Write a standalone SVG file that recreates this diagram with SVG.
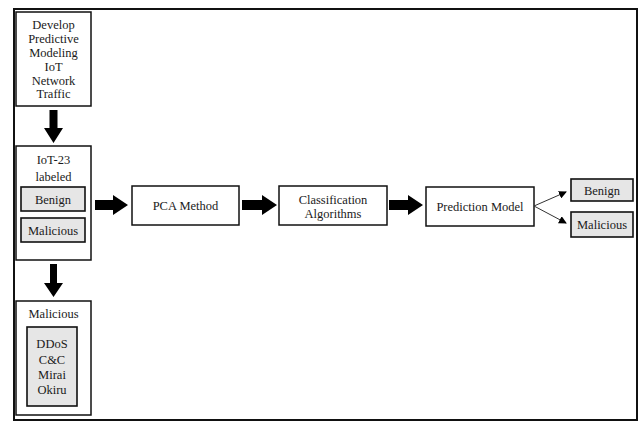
<svg xmlns="http://www.w3.org/2000/svg" width="639" height="422" viewBox="0 0 639 422" font-family="Liberation Serif, DejaVu Serif, serif">
<style>
.box{fill:#fff;stroke:#111;stroke-width:1.5}
.gbox{fill:#e6e6e6;stroke:#111;stroke-width:1.6}
text{font-size:12.5px;fill:#1a1a1a;text-anchor:middle}
.big{fill:#000}
.thin{stroke:#333;stroke-width:1;fill:none}
</style>
<defs>
<marker id="ah" markerWidth="8" markerHeight="8" refX="7" refY="4" orient="auto" markerUnits="userSpaceOnUse">
<path d="M0,0 L8,4 L0,8 Z" fill="#000"/>
</marker>
</defs>
<rect x="0" y="0" width="639" height="422" fill="#fff"/>
<rect x="14" y="9" width="623" height="411" fill="none" stroke="#111" stroke-width="2"/>

<g id="develop">
<rect class="box" x="16" y="12" width="75" height="94"/>
<text x="53.5" y="29">Develop</text>
<text x="53.5" y="43">Predictive</text>
<text x="53.5" y="57">Modeling</text>
<text x="53.5" y="70.5">IoT</text>
<text x="53.5" y="84.5">Network</text>
<text x="53.5" y="98">Traffic</text>
</g>

<g id="iot23">
<rect class="box" x="16" y="146" width="75" height="114"/>
<text x="53.5" y="164">IoT-23</text>
<text x="53.5" y="180.5">labeled</text>
<rect class="gbox" x="21" y="187" width="64" height="24"/>
<text x="53" y="203.5">Benign</text>
<rect class="gbox" x="21" y="218" width="64" height="24"/>
<text x="53" y="234.5">Malicious</text>
</g>

<g id="malicious">
<rect class="box" x="16" y="301" width="75" height="114"/>
<text x="53.5" y="318">Malicious</text>
<rect class="gbox" x="27" y="327" width="50" height="79"/>
<text x="52" y="347.5">DDoS</text>
<text x="52" y="363.5">C&amp;C</text>
<text x="52" y="379">Mirai</text>
<text x="52" y="393.5">Okiru</text>
</g>

<g id="pca">
<rect class="box" x="132" y="186" width="107" height="39"/>
<text x="185.5" y="210">PCA Method</text>
</g>

<g id="classification">
<rect class="box" x="279" y="186" width="108" height="39"/>
<text x="333" y="204">Classification</text>
<text x="333" y="218">Algorithms</text>
</g>

<g id="prediction">
<rect class="box" x="426" y="187" width="108" height="39"/>
<text x="480" y="211">Prediction Model</text>
</g>

<g id="out-benign">
<rect class="gbox" x="571" y="179" width="62" height="22"/>
<text x="602" y="194.5">Benign</text>
</g>

<g id="out-malicious">
<rect class="gbox" x="571" y="212" width="62" height="25"/>
<text x="602" y="229">Malicious</text>
</g>

<g id="connectors">
<path class="big" d="M49.5,110 H57.5 V128 H63 L53.5,143 L44,128 H49.5 Z"/>
<path class="big" d="M50,264 H57 V283 H63 L53.5,297 L44,283 H50 Z"/>
<path class="big" d="M95,200 H113 V195 L128,205 L113,215 V210 H95 Z"/>
<path class="big" d="M242,200 H262 V195 L277,205 L262,215 V210 H242 Z"/>
<path class="big" d="M389,200 H408 V195 L423,205 L408,215 V210 H389 Z"/>
<line class="thin" x1="534" y1="206" x2="566" y2="192" marker-end="url(#ah)"/>
<line class="thin" x1="534" y1="206" x2="566" y2="223" marker-end="url(#ah)"/>
</g>
</svg>
